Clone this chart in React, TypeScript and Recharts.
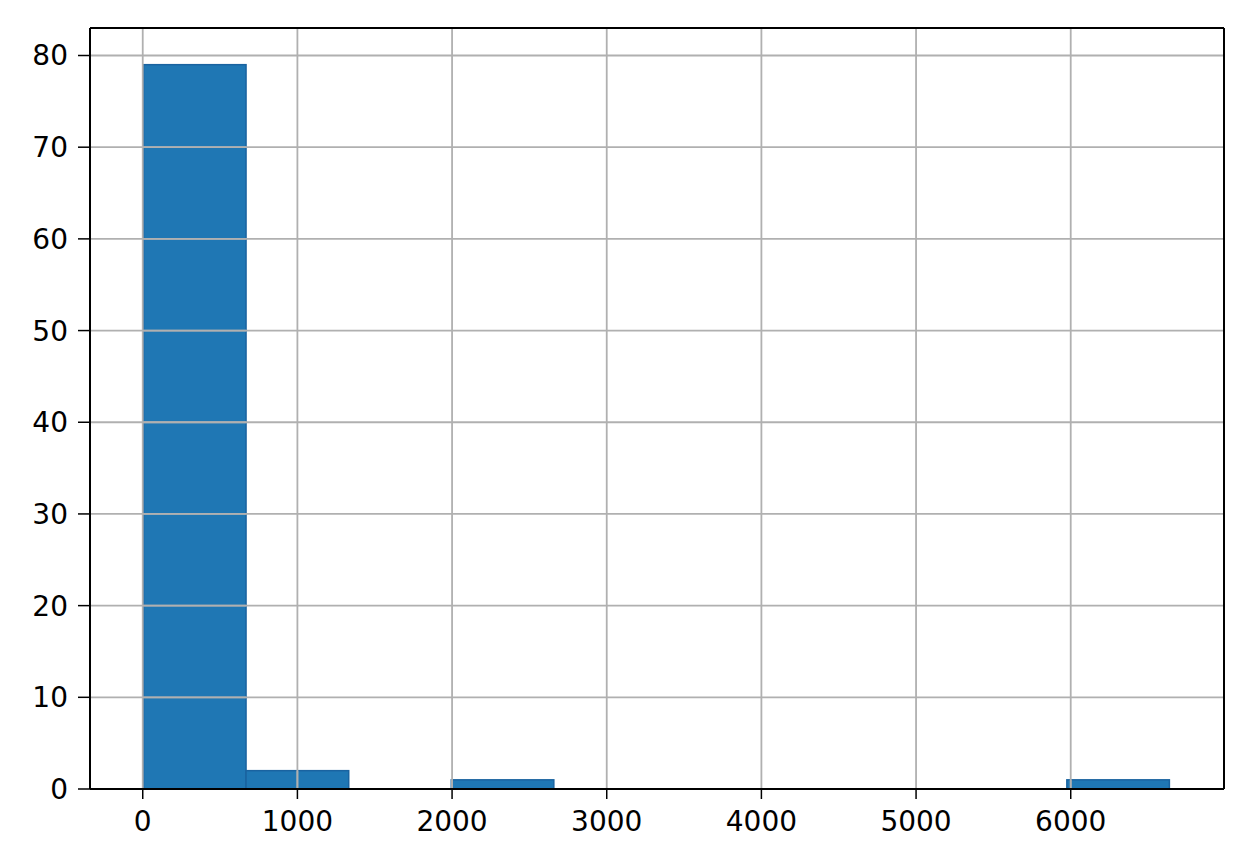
import React from 'react';
import {
  ComposedChart,
  Bar,
  XAxis,
  YAxis,
  ReferenceLine,
} from 'recharts';

// histogram of 83 values, 10 equal bins
const binEdges = [5, 668, 1332, 1995, 2658, 3322, 3985, 4648, 5311, 5975, 6638];
const binCounts = [79, 2, 0, 1, 0, 0, 0, 0, 0, 1];
const xTicks = [0, 1000, 2000, 3000, 4000, 5000, 6000];
const yTicks = [0, 10, 20, 30, 40, 50, 60, 70, 80];

const data = binCounts.map((count, i) => ({
  lo: binEdges[i],
  hi: binEdges[i + 1],
  mid: (binEdges[i] + binEdges[i + 1]) / 2,
  count,
}));

const W = 1237;
const H = 848;
const margin = { top: 28, right: 13, bottom: 0, left: 0 };
const yAxisWidth = 90;
const xAxisHeight = 59;
const xDomain: [number, number] = [-341, 6991];
const yDomain: [number, number] = [0, 83];

const plotWidth = W - margin.left - margin.right - yAxisWidth;
const pxPerUnit = plotWidth / (xDomain[1] - xDomain[0]);

const font = { fontFamily: 'DejaVu Sans', fontSize: 28, fill: '#000' };
const gridColor = '#b0b0b0';
const barColor = '#1f77b4';
const edgeColor = '#1a63a0';

// histogram patch: centre and height come from the chart scales, width spans the bin,
// and the grid is painted over it the way matplotlib does
const HistBar = (props: any) => {
  const { x, y, width, height, payload } = props;
  if (!payload || !payload.count || height <= 0) return null;
  const cx = x + width / 2;
  const left = cx - (payload.mid - payload.lo) * pxPerUnit;
  const right = cx + (payload.hi - payload.mid) * pxPerUnit;
  const bottom = y + height;
  const perCount = height / payload.count;
  const hLines = yTicks.filter((t) => t > 0 && t < payload.count);
  const vLines = xTicks.filter((t) => t > payload.lo && t < payload.hi);
  return (
    <g>
      <rect
        x={left}
        y={y}
        width={right - left}
        height={height}
        fill={barColor}
        stroke={edgeColor}
        strokeWidth={1.5}
      />
      {hLines.map((t) => (
        <line
          key={'h' + t}
          x1={left}
          x2={right}
          y1={bottom - t * perCount}
          y2={bottom - t * perCount}
          stroke={gridColor}
          strokeWidth={1.8}
          strokeOpacity={0.85}
        />
      ))}
      {vLines.map((t) => (
        <line
          key={'v' + t}
          x1={cx + (t - payload.mid) * pxPerUnit}
          x2={cx + (t - payload.mid) * pxPerUnit}
          y1={y}
          y2={bottom}
          stroke={gridColor}
          strokeWidth={1.8}
          strokeOpacity={0.85}
        />
      ))}
    </g>
  );
};

export default function App() {
  return (
    <div style={{ position: 'absolute', left: 0, top: 0, background: '#fff' }}>
      <style>{'body{margin:0}'}</style>
      <ComposedChart width={W} height={H} data={data} margin={margin}>
        {xTicks.map((t) => (
          <ReferenceLine key={'x' + t} x={t} stroke={gridColor} strokeWidth={1.8} />
        ))}
        {yTicks.slice(1).map((t) => (
          <ReferenceLine key={'y' + t} y={t} stroke={gridColor} strokeWidth={1.8} />
        ))}
        <ReferenceLine y={yDomain[1]} stroke="#000" strokeWidth={2} />
        <ReferenceLine x={xDomain[1]} stroke="#000" strokeWidth={2} />
        <XAxis
          dataKey="mid"
          type="number"
          domain={xDomain}
          ticks={xTicks}
          allowDataOverflow
          height={xAxisHeight}
          tick={font}
          tickSize={10}
          tickMargin={12}
          tickLine={{ stroke: '#000', strokeWidth: 1.5 }}
          axisLine={{ stroke: '#000', strokeWidth: 2 }}
        />
        <YAxis
          type="number"
          domain={yDomain}
          ticks={yTicks}
          allowDataOverflow
          width={yAxisWidth}
          tick={font}
          tickSize={12}
          tickMargin={10}
          tickLine={{ stroke: '#000', strokeWidth: 1.5 }}
          axisLine={{ stroke: '#000', strokeWidth: 2 }}
        />
        <Bar
          dataKey="count"
          fill={barColor}
          shape={<HistBar />}
          isAnimationActive={false}
        />
      </ComposedChart>
    </div>
  );
}
